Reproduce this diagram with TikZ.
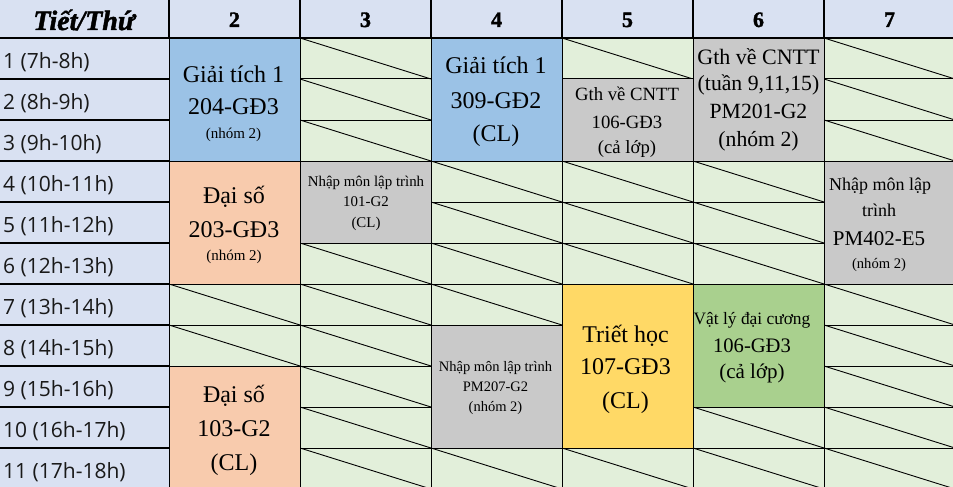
\documentclass[tikz,border=0pt]{standalone}
\usepackage{fontspec}
\setmainfont{Liberation Serif}
\newfontfamily\rowfont{Open Sans}
\newfontfamily\hdfont[FakeBold=1.6]{Liberation Serif}
\definecolor{hdr}{HTML}{D9E1F2}
\definecolor{empt}{HTML}{E2EFDA}
\definecolor{blu}{HTML}{9BC2E6}
\definecolor{pch}{HTML}{F8CBAD}
\definecolor{gry}{HTML}{C9C9C9}
\definecolor{yel}{HTML}{FFD966}
\definecolor{grn}{HTML}{A9D08E}
\newcommand\cellbox[4]{%
  \fill[#4] ({169+131*(#1-2)},{38+41*(#2-1)}) rectangle ({169+131*(#1-1)},{38+41*#3});
  \draw[thinline] ({169+131*(#1-2)},{38+41*(#2-1)}) rectangle ({169+131*(#1-1)},{38+41*#3});}
\newcommand\fs[1]{\fontsize{#1}{#1}\selectfont}
\tikzset{
  thinline/.style={line width=1pt,black},
  thickline/.style={line width=2pt,black},
  diag/.style={line width=0.9pt,black},
  txt/.style={anchor=base,inner sep=0pt,text=black},
  rowlbl/.style={anchor=base west,inner sep=0pt,font=\rowfont\fs{21},text=black!90},
  hd/.style={anchor=base,inner sep=0pt,font=\hdfont\bfseries\fs{22}},
}
\begin{document}
\begin{tikzpicture}[x=1pt,y=-1pt]
\useasboundingbox (0,0) rectangle (953,487);
\clip (0,0) rectangle (953,487);
% backgrounds
\fill[empt] (169,38) rectangle (953,487);
\fill[hdr] (0,0) rectangle (953,38);
\fill[hdr] (0,38) rectangle (169,487);
% body grid
\foreach \r in {1,...,10} \draw[thinline] (169,{38+41*\r}) -- (953,{38+41*\r});
\foreach \c in {1,...,5} \draw[thinline] ({169+131*\c},38) -- ({169+131*\c},487);
% diagonals in empty cells
\foreach \c/\r in {2/7,2/8,
  3/1,3/2,3/3,3/6,3/7,3/8,3/9,3/10,3/11,
  4/4,4/5,4/6,4/7,4/11,
  5/1,5/4,5/5,5/6,5/11,
  6/4,6/5,6/6,6/10,6/11,
  7/1,7/2,7/3,7/7,7/8,7/9,7/10,7/11}
  \draw[diag] ({169+131*(\c-2)},{38+41*(\r-1)}) -- ({169+131*(\c-1)},{38+41*\r});
% coloured blocks
\cellbox{2}{1}{3}{blu}
\cellbox{2}{4}{6}{pch}
\cellbox{2}{9}{11}{pch}
\cellbox{3}{4}{5}{gry}
\cellbox{4}{1}{3}{blu}
\cellbox{4}{8}{10}{gry}
\cellbox{5}{2}{3}{gry}
\cellbox{5}{7}{10}{yel}
\cellbox{6}{1}{3}{gry}
\cellbox{6}{7}{9}{grn}
\cellbox{7}{4}{6}{gry}
% header & first column lines
\draw[thinline] (169,38) -- (169,487);
\foreach \r in {1,...,10} \draw[thickline] (0,{38+41*\r}) -- (169,{38+41*\r});
\foreach \c in {0,...,5} \draw[line width=1.8pt] ({169+131*\c},0) -- ({169+131*\c},38);
\draw[thickline] (0,38) -- (953,38);
% header texts
\node[anchor=base,inner sep=0pt,font=\hdfont\bfseries\itshape\fs{28}] (h1) at (84,30) {Tiết/Thứ};
\node[hd] (h2) at (234.5,27) {2};
\node[hd] (h3) at (365.5,27) {3};
\node[hd] (h4) at (496.5,27) {4};
\node[hd] (h5) at (627.5,27) {5};
\node[hd] (h6) at (758.5,27) {6};
\node[hd] (h7) at (889.5,27) {7};
% row labels
\node[rowlbl] (r1) at (3,68.5) {1 (7h-8h)};
\node[rowlbl] (r2) at (3,109.5) {2 (8h-9h)};
\node[rowlbl] (r3) at (3,150.5) {3 (9h-10h)};
\node[rowlbl] (r4) at (3,191.5) {4 (10h-11h)};
\node[rowlbl] (r5) at (3,232.5) {5 (11h-12h)};
\node[rowlbl] (r6) at (3,273.5) {6 (12h-13h)};
\node[rowlbl] (r7) at (3,314.5) {7 (13h-14h)};
\node[rowlbl] (r8) at (3,355.5) {8 (14h-15h)};
\node[rowlbl] (r9) at (3,396.5) {9 (15h-16h)};
\node[rowlbl] (r10) at (3,437.5) {10 (16h-17h)};
\node[rowlbl] (r11) at (3,478.5) {11 (17h-18h)};
% col 2
\node[txt,font=\fs{24}] (a1) at (233.5,82) {Giải tích 1};
\node[txt,font=\fs{24}] (a2) at (233.5,114) {204-GĐ3};
\node[txt,font=\fs{15}] (a3) at (233.5,138) {(nhóm 2)};
\node[txt,font=\fs{24}] (b1) at (234,203) {Đại số};
\node[txt,font=\fs{24}] (b2) at (234,237) {203-GĐ3};
\node[txt,font=\fs{15}] (b3) at (234,260) {(nhóm 2)};
\node[txt,font=\fs{24}] (c1) at (234,402) {Đại số};
\node[txt,font=\fs{24}] (c2) at (234,436) {103-G2};
\node[txt,font=\fs{24}] (c3) at (234,470) {(CL)};
% col 3
\node[txt,font=\fs{14.9}] (d1) at (366,186) {Nhập môn lập trình};
\node[txt,font=\fs{14.9}] (d2) at (366,206.5) {101-G2};
\node[txt,font=\fs{14.9}] (d3) at (366,227) {(CL)};
% col 4
\node[txt,font=\fs{24}] (e1) at (496,74) {Giải tích 1};
\node[txt,font=\fs{24}] (e2) at (496,108) {309-GĐ2};
\node[txt,font=\fs{24}] (e3) at (496,141) {(CL)};
\node[txt,font=\fs{14.5}] (f1) at (495.5,371) {Nhập môn lập trình};
\node[txt,font=\fs{14.5}] (f2) at (495.5,391.5) {PM207-G2};
\node[txt,font=\fs{14.5}] (f3) at (495.5,411.5) {(nhóm 2)};
% col 5
\node[txt,font=\fs{18.7}] (g1) at (627,100) {Gth về CNTT};
\node[txt,font=\fs{18.7}] (g2) at (627,128) {106-GĐ3};
\node[txt,font=\fs{18.7}] (g3) at (627,153) {(cả lớp)};
\node[txt,font=\fs{24}] (k1) at (625.5,342) {Triết học};
\node[txt,font=\fs{24}] (k2) at (625.5,374.5) {107-GĐ3};
\node[txt,font=\fs{24}] (k3) at (625.5,408) {(CL)};
% col 6
\node[txt,font=\fs{22}] (m1) at (758.5,64) {Gth về CNTT};
\node[txt,font=\fs{21.7}] (m2) at (758.5,91) {(tuần 9,11,15)};
\node[txt,font=\fs{21.7}] (m3) at (758.5,118.5) {PM201-G2};
\node[txt,font=\fs{21.7}] (m4) at (758.5,146.5) {(nhóm 2)};
\node[txt,font=\fs{17.4}] (n1) at (752,324) {Vật lý đại cương};
\node[txt,font=\fs{20.6}] (n2) at (752,352) {106-GĐ3};
\node[txt,font=\fs{21}] (n3) at (752,378) {(cả lớp)};
% col 7
\node[txt,font=\fs{18}] (p1) at (880,190.5) {Nhập môn lập};
\node[txt,font=\fs{18}] (p2) at (879,216.5) {trình};
\node[txt,font=\fs{21}] (p3) at (879,245.5) {PM402-E5};
\node[txt,font=\fs{14.6}] (p4) at (879,268) {(nhóm 2)};
\end{tikzpicture}
\end{document}
